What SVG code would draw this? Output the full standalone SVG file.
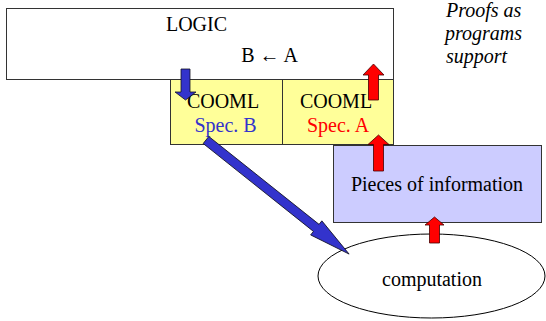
<svg xmlns="http://www.w3.org/2000/svg" width="546" height="321" viewBox="0 0 546 321">
  <style>
    .c { text-anchor: middle; }
    .box { stroke: #333; stroke-width: 1; }
    .red { fill: #ff0000; stroke: #400; stroke-width: 0.8; }
    .blue { fill: #3333cc; stroke: #112; stroke-width: 0.8; }
  </style>

  <g id="logic">
    <rect x="6.5" y="8.5" width="387" height="71" fill="#ffffff" class="box"/>
    <text class="c" x="196.5" y="31" font-family="'Liberation Serif', serif" font-size="20">LOGIC</text>
    <text class="c" x="269.5" y="62" font-family="'Liberation Serif', serif" font-size="20">B ← A</text>
  </g>

  <g id="cooml-b">
    <rect x="170.5" y="79.5" width="112" height="65" fill="#ffff99" class="box"/>
    <text class="c" x="223" y="108" font-family="'Liberation Serif', serif" font-size="20">COOML</text>
    <text class="c" x="225.5" y="132" font-family="'Liberation Serif', serif" font-size="20" fill="#3333cc">Spec. B</text>
  </g>

  <g id="cooml-a">
    <rect x="282.5" y="79.5" width="111" height="65" fill="#ffff99" class="box"/>
    <text class="c" x="336" y="108" font-family="'Liberation Serif', serif" font-size="20">COOML</text>
    <text class="c" x="338" y="132" font-family="'Liberation Serif', serif" font-size="20" fill="#ff0000">Spec. A</text>
  </g>

  <g id="pieces">
    <rect x="333.5" y="145.5" width="208" height="77" fill="#ccccff" class="box"/>
    <text class="c" x="437" y="191" font-family="'Liberation Serif', serif" font-size="20">Pieces of information</text>
  </g>

  <g id="computation">
    <ellipse cx="431.5" cy="276" rx="113.5" ry="42" fill="#ffffff" stroke="#000" stroke-width="1"/>
    <text class="c" x="432" y="286" font-family="'Liberation Serif', serif" font-size="20">computation</text>
  </g>

  <g id="caption">
    <text x="446" y="17" font-family="'Liberation Serif', serif" font-size="20" font-style="italic">Proofs as</text>
    <text x="445" y="40" font-family="'Liberation Serif', serif" font-size="20" font-style="italic">programs</text>
    <text x="446" y="63" font-family="'Liberation Serif', serif" font-size="20" font-style="italic">support</text>
  </g>

  <g id="connectors">
    <!-- LOGIC down into Spec. B -->
    <polygon class="blue" points="181,69 190,69 190,92 196,92 185.5,100 175,92 181,92"/>
    <!-- Spec. A up into LOGIC -->
    <polygon class="red" points="368.5,100 378.5,100 378.5,75 384,75 373.5,64 363,75 368.5,75"/>
    <!-- information up into Spec. A -->
    <polygon class="red" points="373.5,171 383.5,171 383.5,144.5 389,144.5 378.5,135 368,144.5 373.5,144.5"/>
    <!-- computation up into information -->
    <polygon class="red" points="429.5,243 439.5,243 439.5,225 444,225 434.5,217 425,225 429.5,225"/>
    <!-- Spec. B down to computation -->
    <polygon class="blue" transform="translate(206,140) rotate(38.56)"
             points="0,-4.5 141,-4.5 141,-9 183,0 141,9 141,4.5 0,4.5"/>
  </g>
</svg>
